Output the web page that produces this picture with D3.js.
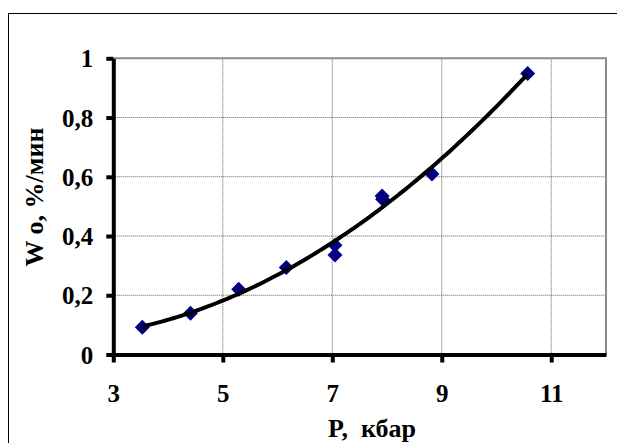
<!DOCTYPE html>
<html>
<head>
<meta charset="utf-8">
<script src="https://cdn.jsdelivr.net/npm/d3@7"></script>
<style>
  html, body { margin: 0; padding: 0; background: #fff; }
  svg { display: block; }
  text { font-family: "Liberation Serif", "Times New Roman", serif; font-weight: bold; fill: #000; }
</style>
</head>
<body>
<svg id="chart" width="617" height="443"></svg>
<script>
// Measured rate of reaction versus pressure
const pressure = [3.53, 4.41, 5.29, 6.16, 7.05, 7.05, 7.91, 7.92, 8.82, 10.57];
const rate     = [0.092, 0.139, 0.22, 0.294, 0.369, 0.336, 0.535, 0.524, 0.609, 0.949];

const xTicks = [3, 5, 7, 9, 11];
const yTicks = [0, 0.2, 0.4, 0.6, 0.8, 1];
const xTitle = "P,  кбар";
const yTitle = "W o, %/мин";

const svg = d3.select("#chart");
const plot = { left: 113.3, right: 606, top: 58.3, bottom: 354.5 };

const x = d3.scaleLinear().domain([3, 12]).range([plot.left, plot.right]);
const y = d3.scaleLinear().domain([0, 1]).range([plot.bottom, plot.top]);

// outer frame
svg.append("rect")
  .attr("x", 8.5).attr("y", 13.5)
  .attr("width", 700).attr("height", 500)
  .attr("fill", "none").attr("stroke", "#000").attr("stroke-width", 1);

// dotted grid
const grid = svg.append("g");
grid.selectAll("line.v").data(xTicks.slice(1)).join("line")
  .attr("x1", d => x(d)).attr("x2", d => x(d))
  .attr("y1", plot.top).attr("y2", plot.bottom)
  .attr("stroke", "#5a5a5a").attr("stroke-width", 1).attr("stroke-dasharray", "1,1");
grid.selectAll("line.h").data(yTicks.slice(1, -1)).join("line")
  .attr("x1", plot.left).attr("x2", plot.right)
  .attr("y1", d => y(d)).attr("y2", d => y(d))
  .attr("stroke", "#5a5a5a").attr("stroke-width", 1).attr("stroke-dasharray", "1,1");

// plot area border (top and right)
svg.append("path")
  .attr("d", `M${plot.left},${plot.top}H${plot.right}V${plot.bottom}`)
  .attr("fill", "none").attr("stroke", "#8c8c8c").attr("stroke-width", 2);

// axes
const fmt = d => String(d).replace(".", ",");
const yAxis = svg.append("g")
  .attr("transform", `translate(${plot.left},0)`)
  .call(d3.axisLeft(y).tickValues(yTicks).tickFormat(fmt).tickSize(7).tickSizeOuter(0).tickPadding(13));
const xAxis = svg.append("g")
  .attr("transform", `translate(0,${plot.bottom})`)
  .call(d3.axisBottom(x).tickValues(xTicks).tickFormat(fmt).tickSize(8).tickSizeOuter(0));

[yAxis, xAxis].forEach(g => {
  g.select(".domain").attr("stroke", "#000").attr("stroke-width", 4);
  g.selectAll(".tick line").attr("stroke", "#000").attr("stroke-width", 4);
  g.selectAll("text").style("font-family", '"Liberation Serif", serif')
    .style("font-weight", "bold").attr("font-size", 25).attr("fill", "#000");
});
yAxis.selectAll("text").attr("dy", "0.34em");
xAxis.selectAll("text").attr("y", 47.5).attr("dy", 0);

// markers
const diamond = "M0,-7.5L7.5,0L0,7.5L-7.5,0Z";
svg.append("g").selectAll("path").data(pressure.map((p, i) => [p, rate[i]])).join("path")
  .attr("d", diamond)
  .attr("transform", d => `translate(${x(d[0])},${y(d[1])})`)
  .attr("fill", "#000080");

// second-order polynomial trend line (least squares)
function quadFit(xs, ys) {
  let s = [0, 0, 0, 0, 0], t = [0, 0, 0];
  xs.forEach((xv, i) => {
    let p = 1;
    for (let k = 0; k < 5; k++) { s[k] += p; if (k < 3) t[k] += p * ys[i]; p *= xv; }
  });
  const A = [[s[0], s[1], s[2], t[0]], [s[1], s[2], s[3], t[1]], [s[2], s[3], s[4], t[2]]];
  for (let c = 0; c < 3; c++) {
    for (let r = c + 1; r < 3; r++) {
      const f = A[r][c] / A[c][c];
      for (let k = c; k < 4; k++) A[r][k] -= f * A[c][k];
    }
  }
  const b = [0, 0, 0];
  for (let r = 2; r >= 0; r--) {
    let v = A[r][3];
    for (let k = r + 1; k < 3; k++) v -= A[r][k] * b[k];
    b[r] = v / A[r][r];
  }
  return xv => b[0] + b[1] * xv + b[2] * xv * xv;
}
const fit = quadFit(pressure, rate);
const [pMin, pMax] = d3.extent(pressure);
const curvePts = d3.range(0, 101).map(i => {
  const p = pMin + (pMax - pMin) * i / 100;
  return [p, fit(p)];
});
svg.append("path")
  .datum(curvePts)
  .attr("d", d3.line().x(d => x(d[0])).y(d => y(d[1])))
  .attr("fill", "none").attr("stroke", "#000").attr("stroke-width", 4);

// axis titles
svg.append("text")
  .attr("x", 372).attr("y", 437)
  .attr("text-anchor", "middle").attr("font-size", 26)
  .style("white-space", "pre")
  .text(xTitle);
svg.append("text")
  .attr("transform", "translate(43,197) rotate(-90)")
  .attr("text-anchor", "middle").attr("font-size", 26)
  .style("white-space", "pre")
  .text(yTitle);
</script>
</body>
</html>
